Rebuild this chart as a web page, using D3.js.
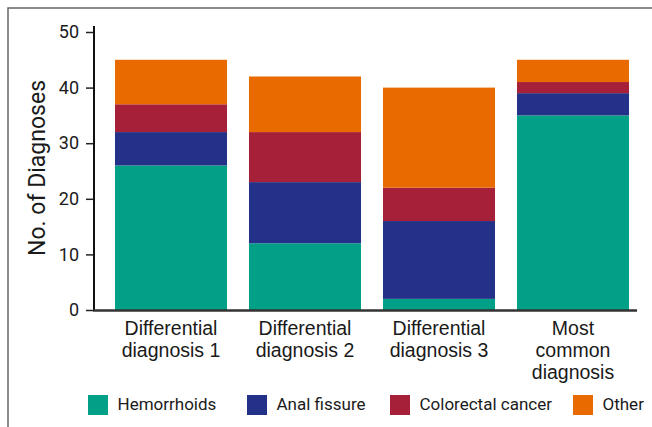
<!DOCTYPE html>
<html><head><meta charset="utf-8">
<script src="https://cdn.jsdelivr.net/npm/d3@7"></script>
<style>body{margin:0;background:#fff}svg{display:block}</style>
</head><body>
<script>
const categories = ["Differential diagnosis 1","Differential diagnosis 2","Differential diagnosis 3","Most common diagnosis"];
const categoryLines = [["Differential","diagnosis 1"],["Differential","diagnosis 2"],["Differential","diagnosis 3"],["Most","common","diagnosis"]];
const seriesNames = ["Hemorrhoids","Anal fissure","Colorectal cancer","Other"];
const hemorrhoids = [26,12,2,35];
const analFissure = [6,11,14,4];
const colorectalCancer = [5,9,6,2];
const other = [8,10,18,4];
const yTicks = [0,10,20,30,40,50];
const colors = ["#02a187","#243188","#a6203a","#e96b00"];

const W=652,H=427;
const svg=d3.select("body").append("svg").attr("width",W).attr("height",H);
// frame
svg.append("rect").attr("x",8).attr("y",8).attr("width",W+20).attr("height",H+20)
  .attr("fill","none").attr("stroke","#666").attr("stroke-width",1.5);

const rows = categories.map((c,i)=>({cat:c,"Hemorrhoids":hemorrhoids[i],"Anal fissure":analFissure[i],"Colorectal cancer":colorectalCancer[i],"Other":other[i]}));
const stack=d3.stack().keys(seriesNames)(rows);

const x=d3.scaleBand().domain(categories).range([104,640]).paddingInner(0.164).paddingOuter(0.082);
const y=d3.scaleLinear().domain([0,50]).range([310,32]);

const g=svg.append("g");
stack.forEach((s,si)=>{
  g.selectAll(null).data(s).enter().append("rect")
    .attr("x",d=>x(d.data.cat)).attr("width",x.bandwidth())
    .attr("y",d=>y(d[1])).attr("height",d=>y(d[0])-y(d[1]))
    .attr("fill",colors[si]);
});

// y axis
const ya=svg.append("g").attr("transform","translate(94,0)")
  .call(d3.axisLeft(y).tickValues(yTicks).tickSize(8).tickPadding(7));
ya.select(".domain").remove();
ya.selectAll(".tick line").attr("stroke","#222").attr("stroke-width",1.5);
ya.selectAll(".tick text").attr("font-family","Roboto").attr("font-size","18px").attr("fill","#1a1a1a");
svg.append("line").attr("x1",94).attr("x2",94).attr("y1",26).attr("y2",311).attr("stroke","#111").attr("stroke-width",2);
// x axis line
svg.append("line").attr("x1",93).attr("x2",637).attr("y1",310.5).attr("y2",310.5).attr("stroke","#333").attr("stroke-width",2.5);

// x labels
categories.forEach((c,i)=>{
  const t=svg.append("text").attr("text-anchor","middle")
    .attr("font-family","Liberation Sans, Arial, sans-serif").attr("font-size","19.5px").attr("fill","#1a1a1a");
  categoryLines[i].forEach((ln,j)=>{
    t.append("tspan").attr("x",x(c)+x.bandwidth()/2).attr("y",335+j*22).text(ln);
  });
});

// y label
svg.append("text").attr("transform","translate(45,168) rotate(-90)").attr("text-anchor","middle")
  .attr("font-family","Roboto").attr("font-size","23px").attr("fill","#1a1a1a").text("No. of Diagnoses");

// legend
const legX=[88,247,390,573];
seriesNames.forEach((n,i)=>{
  svg.append("rect").attr("x",legX[i]).attr("y",395).attr("width",20).attr("height",20).attr("fill",colors[i]);
  svg.append("text").attr("x",legX[i]+29.5).attr("y",410).attr("font-family","Roboto").attr("font-size","17px").attr("fill","#1a1a1a").text(n);
});
</script>
</body></html>
